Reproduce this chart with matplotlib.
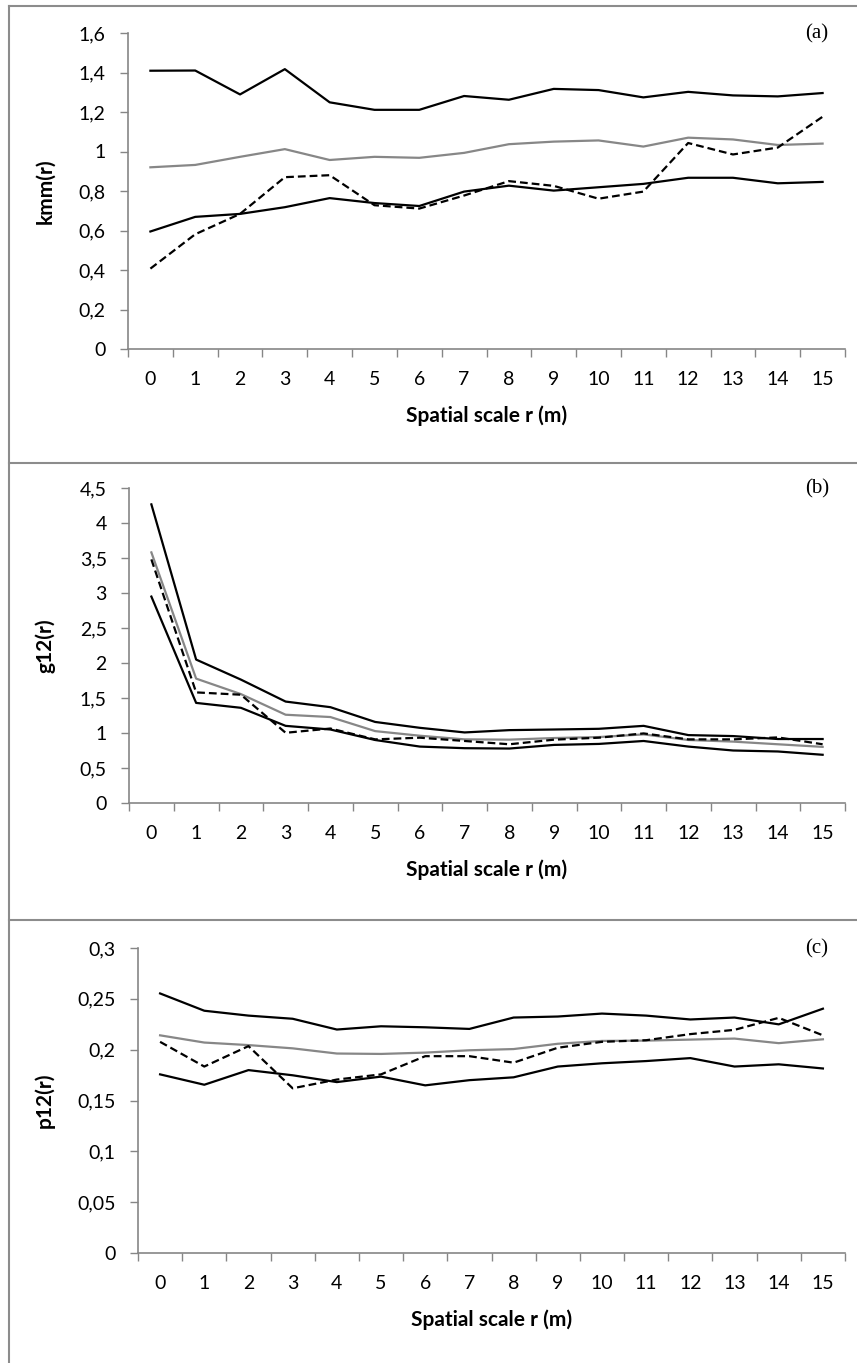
import numpy as np
import matplotlib.pyplot as plt
from matplotlib.lines import Line2D

# Datos
r = list(range(16))

# (a) kmm(r)
kmm_sup = [1.409, 1.41, 1.289, 1.417, 1.249, 1.211, 1.211, 1.281, 1.262, 1.317, 1.311, 1.274, 1.302, 1.284, 1.279, 1.296]
kmm_med = [0.920, 0.932, 0.973, 1.012, 0.957, 0.973, 0.968, 0.993, 1.037, 1.050, 1.056, 1.025, 1.070, 1.061, 1.033, 1.040]
kmm_inf = [0.595, 0.669, 0.684, 0.718, 0.764, 0.739, 0.724, 0.797, 0.827, 0.802, 0.819, 0.836, 0.867, 0.867, 0.839, 0.846]
kmm_obs = [0.407, 0.581, 0.684, 0.870, 0.880, 0.728, 0.711, 0.777, 0.850, 0.826, 0.761, 0.797, 1.043, 0.985, 1.020, 1.176]

# (b) g12(r)
g12_sup = [4.266, 2.049, 1.763, 1.449, 1.369, 1.158, 1.074, 1.008, 1.041, 1.050, 1.060, 1.102, 0.970, 0.956, 0.914, 0.914]
g12_med = [3.58, 1.777, 1.556, 1.261, 1.228, 1.027, 0.961, 0.909, 0.905, 0.928, 0.942, 0.980, 0.900, 0.877, 0.839, 0.802]
g12_inf = [2.949, 1.430, 1.360, 1.102, 1.050, 0.900, 0.806, 0.783, 0.778, 0.830, 0.844, 0.886, 0.806, 0.750, 0.736, 0.689]
g12_obs = [3.48, 1.58, 1.547, 1.003, 1.064, 0.909, 0.933, 0.886, 0.839, 0.905, 0.933, 0.994, 0.909, 0.909, 0.937, 0.839]

# (c) p12(r)
p12_sup = [0.2553, 0.2383, 0.2335, 0.2304, 0.2198, 0.2230, 0.2220, 0.2204, 0.2316, 0.2326, 0.2355, 0.2335, 0.2297, 0.2316, 0.2249, 0.2403]
p12_med = [0.2141, 0.2070, 0.2045, 0.2013, 0.1962, 0.1958, 0.1971, 0.1994, 0.2006, 0.2058, 0.2086, 0.2089, 0.2099, 0.2109, 0.2064, 0.2102]
p12_inf = [0.1757, 0.1655, 0.1799, 0.1748, 0.1681, 0.1735, 0.1649, 0.1700, 0.1728, 0.1834, 0.1866, 0.1888, 0.1917, 0.1834, 0.1856, 0.1815]
p12_obs = [0.2077, 0.1834, 0.2035, 0.1620, 0.1706, 0.1757, 0.1936, 0.1936, 0.1872, 0.2019, 0.2077, 0.2093, 0.2153, 0.2195, 0.2313, 0.2141]

paneles = [
    {"sup": kmm_sup, "med": kmm_med, "inf": kmm_inf, "obs": kmm_obs,
     "ylabel": "kmm(r)", "letra": "(a)", "ylim": 1.6, "paso": 0.2,
     "ticks": ["0", "0,2", "0,4", "0,6", "0,8", "1", "1,2", "1,4", "1,6"],
     "pos": [128, 33, 845, 349]},
    {"sup": g12_sup, "med": g12_med, "inf": g12_inf, "obs": g12_obs,
     "ylabel": "g12(r)", "letra": "(b)", "ylim": 4.5, "paso": 0.5,
     "ticks": ["0", "0,5", "1", "1,5", "2", "2,5", "3", "3,5", "4", "4,5"],
     "pos": [129, 488, 845, 803]},
    {"sup": p12_sup, "med": p12_med, "inf": p12_inf, "obs": p12_obs,
     "ylabel": "p12(r)", "letra": "(c)", "ylim": 0.3, "paso": 0.05,
     "ticks": ["0", "0,05", "0,1", "0,15", "0,2", "0,25", "0,3"],
     "pos": [138, 948, 845, 1253]},
]

W, H = 857, 1363
gris_eje = "#868686"
fuente = "Lato"

fig = plt.figure(figsize=(W / 100, H / 100), dpi=100)

for p in paneles:
    x0, y0, x1, y1 = p["pos"]
    ax = fig.add_axes([x0 / W, 1 - y1 / H, (x1 - x0) / W, (y1 - y0) / H])

    ax.plot(r, p["sup"], color="black", lw=1.6)
    ax.plot(r, p["med"], color="#878787", lw=1.6)
    ax.plot(r, p["inf"], color="black", lw=1.6)
    ax.plot(r, p["obs"], color="black", lw=1.6, dashes=(3.5, 1.8))

    ax.set_xlim(-0.5, 15.5)
    ax.set_ylim(0, p["ylim"])
    ax.set_yticks(np.arange(len(p["ticks"])) * p["paso"])
    ax.set_yticklabels(p["ticks"], fontfamily=fuente, fontsize=14)
    ax.set_xticks(r)
    ax.set_xticklabels([str(i) for i in r], fontfamily=fuente, fontsize=14)
    ax.set_xticks(np.arange(-0.5, 16, 1), minor=True)
    ax.tick_params(axis="x", which="major", length=0, pad=16)
    ax.tick_params(axis="x", which="minor", length=6, color=gris_eje, width=1)
    ax.tick_params(axis="y", which="major", length=6, color=gris_eje, width=1, pad=10)

    for lado in ["top", "right"]:
        ax.spines[lado].set_visible(False)
    for lado in ["left", "bottom"]:
        ax.spines[lado].set_color(gris_eje)
        ax.spines[lado].set_linewidth(1.2)

    alto = y1 - y0
    ax.set_ylabel("", fontsize=1)
    ax.set_ylabel(p["ylabel"], fontfamily=fuente, fontsize=15, fontweight="bold")
    ax.yaxis.set_label_coords((55 - x0) / (x1 - x0), 0.5)
    ax.set_xlabel("Spatial scale r (m)", fontfamily=fuente, fontsize=15, fontweight="bold")
    ax.xaxis.set_label_coords(0.5, -56 / alto)

    ax.text(817 / W, 1 - (y0 + 1) / H, p["letra"], transform=fig.transFigure,
            ha="center", va="center", fontfamily="Liberation Serif", fontsize=15)

# Marcos de los paneles
for y in [6, 463, 920]:
    fig.add_artist(Line2D([9 / W, 1], [1 - y / H, 1 - y / H], color="#8c8c8c", lw=1.5))
fig.add_artist(Line2D([9 / W, 9 / W], [0, 1 - 6 / H], color="#8c8c8c", lw=1.5))

fig.savefig("out.png", dpi=100)
